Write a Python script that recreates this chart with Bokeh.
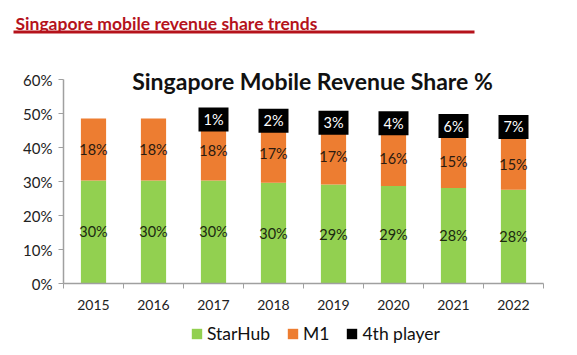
from bokeh.plotting import figure
from bokeh.models import (ColumnDataSource, FixedTicker, PrintfTickFormatter, Range1d,
                          Legend, LegendItem, Label, BoxAnnotation)
from bokeh.core.properties import value
from bokeh.embed import file_html
from bokeh.resources import INLINE

years = ["2015", "2016", "2017", "2018", "2019", "2020", "2021", "2022"]
starhub = [30.3, 30.3, 30.3, 29.6, 29.1, 28.7, 28.1, 27.6]
m1 = [18.2, 18.2, 17.6, 17.4, 16.8, 16.4, 15.3, 15.0]
fourth = [0.0, 0.0, 0.6, 1.7, 2.8, 4.1, 5.8, 6.9]
yticks = [0, 10, 20, 30, 40, 50, 60]

FONT = "Lato"
GREEN = "#92d050"
ORANGE = "#ed7d31"
BLACK = "#000000"
RED = "#b5121b"
AXIS = "#a0a0a0"

W, H = 577, 355
# plot area geometry (pixels): x axis 63..543, y 0% at 283, 60% at 79
PX_L, PX_R, PY_0, PY_60 = 63, 543, 283, 79
n = len(years)
ux = (PX_R - PX_L) / n
uy = (PY_0 - PY_60) / 60

xs = [i + 0.5 for i in range(n)]
src = ColumnDataSource(dict(
    x=xs, year=years, starhub=starhub, m1=m1, fourth=fourth,
    sh_y=[s / 2 for s in starhub],
    m1_y=[s + m / 2 for s, m in zip(starhub, m1)],
    fo_y=[s + m + f / 2 for s, m, f in zip(starhub, m1, fourth)],
    sh_t=[f"{v:.0f}%" for v in starhub],
    m1_t=[f"{v:.0f}%" for v in m1],
    fo_t=[f"{v:.0f}%" if v > 0 else "" for v in fourth],
))
fsrc = ColumnDataSource({k: [v for v, f in zip(src.data[k], fourth) if f > 0] for k in src.data})

p = figure(width=W, height=H, output_backend="svg", toolbar_location=None,
           x_range=Range1d(-PX_L / ux, n + (W - PX_R) / ux),
           y_range=Range1d(-(H - PY_0) / uy, PY_0 / uy),
           min_border=0)
p.outline_line_color = None
p.grid.grid_line_color = None

r = p.vbar_stack(["starhub", "m1", "fourth"], x="x", width=0.42, source=src,
                 color=[GREEN, ORANGE, BLACK], line_color=None)

p.text(x="x", y="sh_y", text="sh_t", source=src, text_align="center", text_baseline="middle",
       text_font=value(FONT), text_font_size="14.5px", text_color="#1b2a10")
p.text(x="x", y="m1_y", text="m1_t", source=src, text_align="center", text_baseline="middle",
       text_font=value(FONT), text_font_size="14.5px", text_color="#2a1a10")
p.rect(x="x", y="fo_y", width=30, height=24, width_units="screen", height_units="screen",
       source=fsrc, fill_color=BLACK, line_color=None)
p.text(x="x", y="fo_y", text="fo_t", source=fsrc, text_align="center", text_baseline="middle",
       text_font=value(FONT), text_font_size="14.5px", text_color="white")

ax = p.xaxis[0]
ax.fixed_location = 0
ax.bounds = (0, n)
ax.ticker = FixedTicker(ticks=xs, minor_ticks=list(range(n + 1)))
ax.major_label_overrides = {x: y for x, y in zip(xs, years)}
ax.major_tick_line_color = None
ax.minor_tick_line_color = AXIS
ax.minor_tick_out = 5
ax.minor_tick_in = 0
ax.axis_line_color = AXIS
ax.axis_line_width = 1.5
ax.major_label_standoff = 10
ax.major_label_text_font = FONT
ax.major_label_text_font_size = "14px"
ax.major_label_text_color = "#222222"

ay = p.yaxis[0]
ay.fixed_location = 0
ay.bounds = (0, 60)
ay.ticker = FixedTicker(ticks=yticks)
ay.formatter = PrintfTickFormatter(format="%d%%")
ay.major_tick_line_color = AXIS
ay.major_tick_out = 5
ay.major_tick_in = 0
ay.minor_tick_line_color = None
ay.axis_line_color = AXIS
ay.axis_line_width = 1.5
ay.major_label_standoff = 6
ay.major_label_text_font = FONT
ay.major_label_text_font_size = "15px"
ay.major_label_text_color = "#222222"

legend = Legend(items=[LegendItem(label="StarHub", renderers=[r[0]]),
                       LegendItem(label="M1", renderers=[r[1]]),
                       LegendItem(label="4th player", renderers=[r[2]])],
                orientation="horizontal", location=(190, 11),
                label_text_font=FONT, label_text_font_size="17.5px", label_text_color="#111111",
                glyph_width=13, glyph_height=13, spacing=16, label_standoff=4,
                border_line_color=None, background_fill_alpha=0, padding=0, margin=0)
p.add_layout(legend, "center")

p.add_layout(Label(x=4.15, y=59.7, text="Singapore Mobile Revenue Share %", text_align="center",
                   text_baseline="middle", text_font=FONT, text_font_style="bold",
                   text_font_size="23px", text_color="#111111"))

p.add_layout(Label(x=15, y=H - 23, x_units="screen", y_units="screen",
                   text="Singapore mobile revenue share trends", text_baseline="alphabetic",
                   text_font=FONT, text_font_style="bold", text_font_size="17.5px", text_color=RED))
p.add_layout(BoxAnnotation(left=13, right=474, top=H - 30, bottom=H - 33, left_units="screen",
                           right_units="screen", top_units="screen", bottom_units="screen",
                           fill_color=RED, fill_alpha=1, line_color=None))

open("out.html", "w").write(file_html(p, INLINE))
